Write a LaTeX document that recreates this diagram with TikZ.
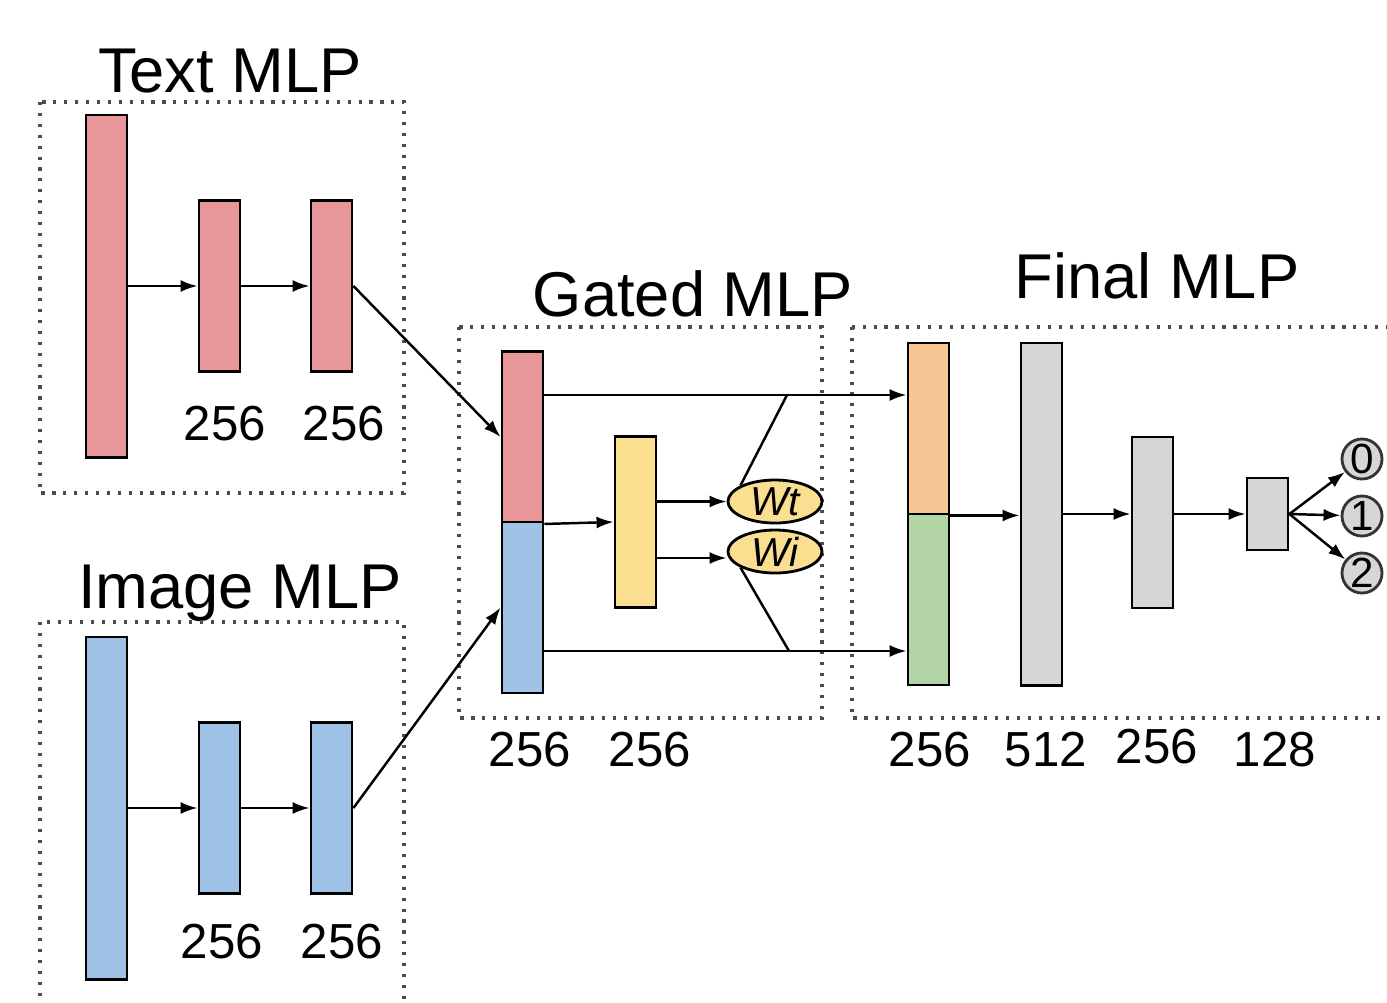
\documentclass[tikz,border=0pt]{standalone}
\usepackage{fontspec}
\setmainfont{Liberation Sans}
\usetikzlibrary{arrows.meta,shapes.geometric}

\definecolor{txtred}{HTML}{E8969A}
\definecolor{imgblue}{HTML}{9FC3E6}
\definecolor{gateyel}{HTML}{FBDF90}
\definecolor{wtorange}{HTML}{F6C795}
\definecolor{wigreen}{HTML}{B3D4A5}
\definecolor{layergray}{HTML}{D6D6D6}

\tikzset{
  layer/.style={draw, line width=0.8pt, minimum width=0.41cm, inner sep=0pt},
  tall/.style={layer, minimum height=3.42cm},
  half/.style={layer, minimum height=1.71cm},
  grp/.style={draw=black!70, line width=0.9pt, dash pattern=on 0.9pt off 2.2pt},
  conn/.style={line width=0.7pt, -{Latex[length=0.17cm, width=0.12cm]}},
  wire/.style={line width=0.7pt},
  size/.style={anchor=base, font=\fontsize{14}{16}\selectfont},
  title/.style={anchor=base, font=\fontsize{18}{20}\selectfont},
  gate/.style={ellipse, draw, line width=0.8pt, fill=gateyel, minimum width=0.94cm,
    minimum height=0.43cm, inner sep=0pt, font=\fontsize{11.5}{12}\selectfont\itshape},
  outnode/.style={circle, draw=black!80, line width=0.8pt, fill=layergray, minimum size=0.4cm,
    inner sep=0pt, font=\fontsize{12}{12}\selectfont}
}

\begin{document}
\begin{tikzpicture}[x=0.01cm, y=-0.01cm]
\useasboundingbox (0,0) rectangle (1387,1002);

% --- Titles ---
\node[title] (ttl-t) at (230,92) {Text MLP};
\node[title] (ttl-i) at (240,608) {Image MLP};
\node[title] (ttl-g) at (693,316) {Gated MLP};
\node[title] (ttl-f) at (1157,298) {Final MLP};

% --- Group boxes ---
\draw[grp] (40,102) rectangle (404,493);
\draw[grp] (40,622) rectangle (404,1010);
\draw[grp] (459,327) rectangle (822,718);
\draw[grp] (852,327) rectangle (1400,718);

% --- Text MLP ---
\node[tall, fill=txtred] (t1) at (106.5,286) {};
\node[half, fill=txtred] (t2) at (219.5,286) {};
\node[half, fill=txtred] (t3) at (331.5,286) {};
\node[size] (lt2) at (225,440) {256};
\node[size] (lt3) at (344,440) {256};
\draw[conn] (t1) -- (t2);
\draw[conn] (t2) -- (t3);

% --- Image MLP ---
\node[tall, fill=imgblue] (i1) at (106.5,808) {};
\node[half, fill=imgblue] (i2) at (219.5,808) {};
\node[half, fill=imgblue] (i3) at (331.5,808) {};
\node[size] (li2) at (222,958) {256};
\node[size] (li3) at (342,958) {256};
\draw[conn] (i1) -- (i2);
\draw[conn] (i2) -- (i3);

% --- Gated MLP ---
\node[half, fill=txtred] (cat-t) at (522.5,437) {};
\node[half, fill=imgblue] (cat-i) at (522.5,607.5) {};
\node[half, fill=gateyel] (g1) at (635.5,522) {};
\node[gate] (wt) at (775,501.5) {Wt};
\node[gate] (wi) at (775,551.5) {Wi};
\node[size] (lc) at (530,766) {256};
\node[size] (lg1) at (650,766) {256};
\draw[conn] (t3.east) -- (cat-t.west);
\draw[conn] (i3.east) -- (cat-i.west);
\draw[conn] (cat-t.south east) -- (g1.west);
\draw[conn] (g1.east |- wt) -- (wt);
\draw[conn] (g1.east |- 0,558) -- (wi.west |- 0,558);
\coordinate (jt) at (787,395);
\coordinate (ji) at (789,651);
\draw[wire] (wt.155) -- (jt);
\draw[wire] (wi.205) -- (ji);

% --- Final MLP ---
\node[half, fill=wtorange] (f-t) at (928.5,428.5) {};
\node[half, fill=wigreen] (f-i) at (928.5,599.5) {};
\node[tall, fill=layergray] (f2) at (1041.5,514) {};
\node[half, fill=layergray] (f3) at (1152.5,522.5) {};
\node[layer, fill=layergray, minimum height=0.72cm] (f4) at (1267.5,514) {};
\node[size] (lf1) at (930,766) {256};
\node[size] (lf2) at (1046,766) {512};
\node[size] (lf3) at (1157,763) {256};
\node[size] (lf4) at (1275,766) {128};
\draw[conn] (cat-t.east |- jt) -- (f-t.west |- jt);
\draw[conn] (cat-i.east |- ji) -- (f-i.west |- ji);
\draw[conn] (f-t.south east) -- (f2.west |- f-t.south east);
\draw[conn] (f2.east) -- (f3.west |- f2.east);
\draw[conn] (f3.east |- f4) -- (f4.west);

% --- Outputs ---
\node[outnode] (c0) at (1362,459) {0};
\node[outnode] (c1) at (1362,516) {1};
\node[outnode] (c2) at (1362,573) {2};
\draw[conn] (f4.east) -- (c0);
\draw[conn] (f4.east) -- (c1);
\draw[conn] (f4.east) -- (c2);

\end{tikzpicture}
\end{document}
